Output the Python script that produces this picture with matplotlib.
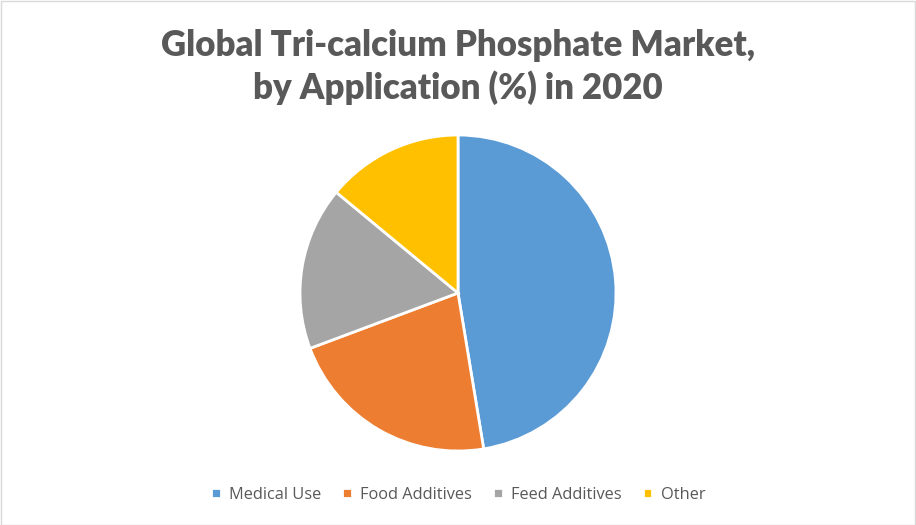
import matplotlib.pyplot as plt
from matplotlib.patches import Rectangle

categories = ["Medical Use", "Food Additives", "Feed Additives", "Other"]
shares = [47.4, 21.9, 16.7, 14.0]
colors = ["#5B9BD5", "#ED7D31", "#A5A5A5", "#FFC000"]

fig = plt.figure(figsize=(9.16, 5.25), dpi=100)
W, H = 916, 525

# pie centred at (458, 293) px with radius 158 px
cx, cy, r = 458, 293, 158
ax = fig.add_axes([(cx - r) / W, (H - cy - r) / H, 2 * r / W, 2 * r / H])
wedges, _ = ax.pie(
    shares,
    colors=colors,
    startangle=90,
    counterclock=False,
    wedgeprops=dict(edgecolor="white", linewidth=2),
)
ax.set_xlim(-1, 1)
ax.set_ylim(-1, 1)
ax.set_aspect("equal")
ax.axis("off")

fig.text(0.5, 1 - 45 / H, "Global Tri-calcium Phosphate Market,", ha="center", va="center",
         fontsize=25, fontweight="heavy", color="#595959", family="Lato")
fig.text(0.5, 1 - 88 / H, "by Application (%) in 2020", ha="center", va="center",
         fontsize=25, fontweight="heavy", color="#595959", family="Lato")

fig.legend(
    wedges,
    categories,
    loc="center",
    bbox_to_anchor=(0.5, 1 - 495 / H),
    ncol=4,
    frameon=False,
    handlelength=0.6,
    handleheight=0.6,
    handletextpad=0.5,
    columnspacing=1.28,
    prop={"family": "Open Sans", "size": 11.8},
    labelcolor="#595959",
)

fig.patches.append(Rectangle((0.5 / W, 0.5 / H), 1 - 1.5 / W, 1 - 1.5 / H, transform=fig.transFigure,
                             fill=False, edgecolor="#D9D9D9", linewidth=1))

fig.savefig("out.png", dpi=100, facecolor="white")
